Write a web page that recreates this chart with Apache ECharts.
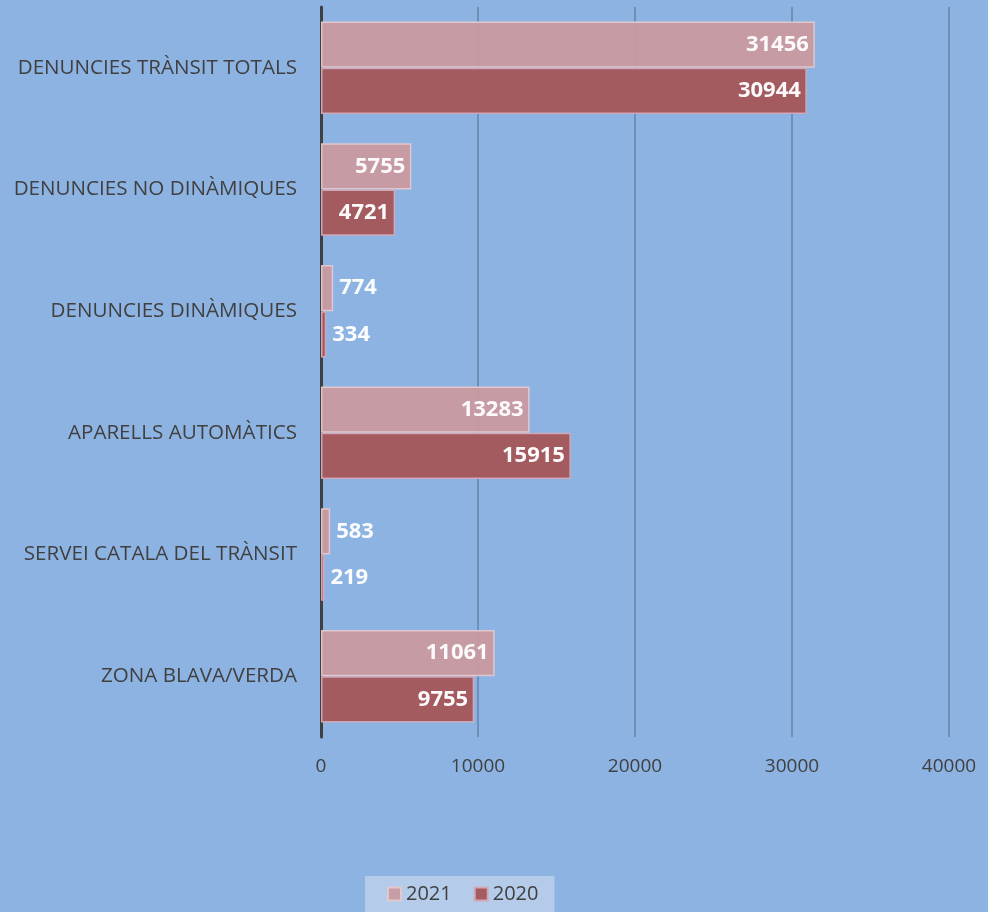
<!DOCTYPE html>
<html lang="ca" style="height: 100%">
  <head>
    <meta charset="utf-8" />
    <title>Denuncies</title>
  </head>
  <body style="height: 100%; margin: 0; background: #8db3e2">
    <div id="container" style="width: 988px; height: 912px"></div>

    <script
      type="text/javascript"
      src="https://fastly.jsdelivr.net/npm/echarts@6/dist/echarts.min.js"
    ></script>

    <script type="text/javascript">
      var categories = [
        "DENUNCIES TRÀNSIT TOTALS",
        "DENUNCIES NO DINÀMIQUES",
        "DENUNCIES DINÀMIQUES",
        "APARELLS AUTOMÀTICS",
        "SERVEI CATALA DEL TRÀNSIT",
        "ZONA BLAVA/VERDA",
      ];
      var values2021 = [31456, 5755, 774, 13283, 583, 11061];
      var values2020 = [30944, 4721, 334, 15915, 219, 9755];
      var xTicks = [0, 10000, 20000, 30000, 40000];

      var FONT = "Open Sans";
      var dom = document.getElementById("container");
      var myChart = echarts.init(dom, null, { renderer: "canvas" });

      // small bars get their label outside, like Excel's "inside end"
      function withLabels(vals) {
        return vals.map(function (v) {
          return {
            value: v,
            label: { position: v < 3000 ? "right" : "insideRight" },
          };
        });
      }

      var labelStyle = {
        show: true,
        color: "#ffffff",
        fontFamily: FONT,
        fontWeight: "bold",
        fontSize: 22,
        distance: 6,
      };

      var option = {
        backgroundColor: "#8db3e2",
        textStyle: { fontFamily: FONT },
        grid: { left: 321, right: 39, top: 7, bottom: 175, containLabel: false },
        legend: {
          bottom: 0,
          left: 365,
          icon: "rect",
          itemWidth: 13,
          itemHeight: 13,
          itemGap: 22,
          padding: [8, 16, 8, 22],
          backgroundColor: "#b4cbe9",
          textStyle: { color: "#404040", fontSize: 20, fontFamily: FONT },
          data: ["2021", "2020"],
        },
        xAxis: {
          type: "value",
          min: xTicks[0],
          max: xTicks[xTicks.length - 1],
          interval: 10000,
          axisLine: { show: false },
          axisTick: { show: false },
          axisLabel: {
            color: "#404040",
            fontSize: 19,
            margin: 20,
            fontFamily: FONT,
            formatter: function (v) {
              return String(v);
            },
          },
          splitLine: { lineStyle: { color: "#6f90b6", width: 2 } },
        },
        yAxis: {
          type: "category",
          inverse: true,
          data: categories,
          axisLine: { lineStyle: { color: "#404040", width: 3 } },
          axisTick: { show: false },
          axisLabel: {
            color: "#404040",
            fontSize: 20.6,
            margin: 24,
            fontFamily: FONT,
          },
        },
        series: [
          {
            name: "2021",
            type: "bar",
            data: withLabels(values2021),
            barCategoryGap: "24%",
            barGap: "0%",
            itemStyle: {
              color: "#c99aa0",
              borderColor: "#e3c9d0",
              borderWidth: 1.5,
              opacity: 0.95,
            },
            label: labelStyle,
          },
          {
            name: "2020",
            type: "bar",
            data: withLabels(values2020),
            itemStyle: {
              color: "#a4585c",
              borderColor: "#d3a9b8",
              borderWidth: 1.5,
              opacity: 0.97,
            },
            label: labelStyle,
          },
        ],
      };

      myChart.setOption(option);
      window.addEventListener("resize", myChart.resize);
    </script>
  </body>
</html>
